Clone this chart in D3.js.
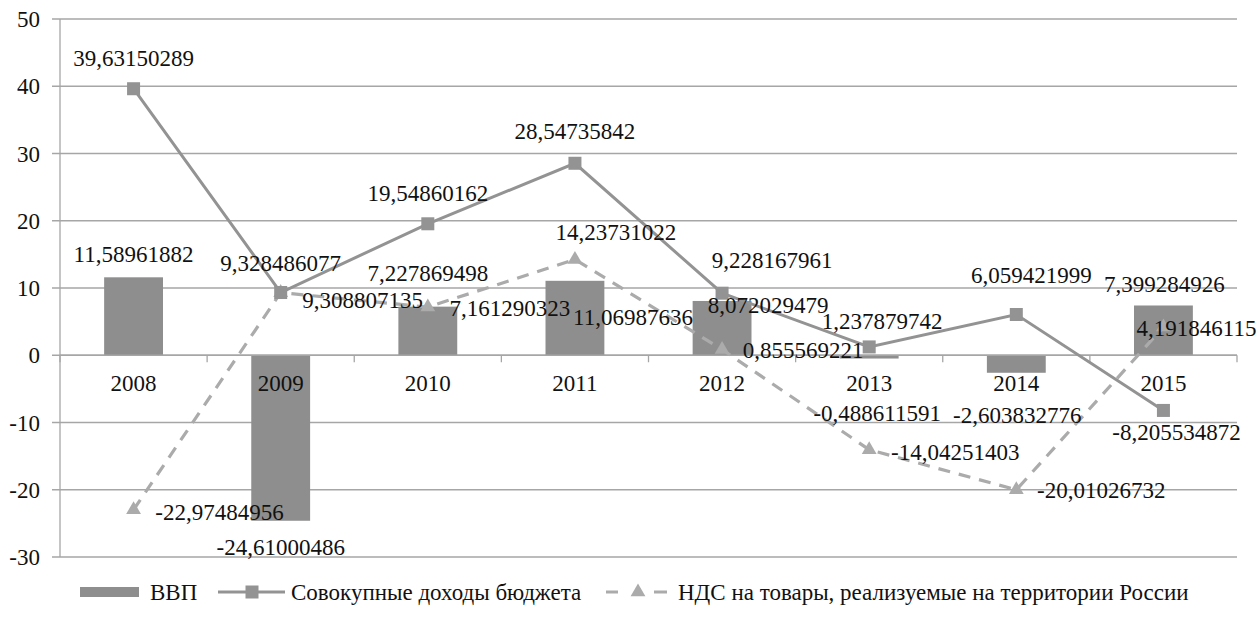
<!DOCTYPE html>
<html>
<head>
<meta charset="utf-8">
<script src="https://cdn.jsdelivr.net/npm/d3@7/dist/d3.min.js"></script>
<style>
  html, body { margin: 0; padding: 0; background: #fff; }
  svg { display: block; }
  text { font-family: "Liberation Serif", Tinos, "Times New Roman", "DejaVu Serif", serif; font-size: 23px; fill: #111; }
</style>
</head>
<body>
<svg id="chart" width="1260" height="620"></svg>
<script>
// Годы
const years = ["2008", "2009", "2010", "2011", "2012", "2013", "2014", "2015"];

// ВВП, темп прироста, %
const gdp = [11.58961882, -24.61000486, 7.227869498, 11.06987636, 8.072029479, -0.488611591, -2.603832776, 7.399284926];

// Совокупные доходы бюджета, темп прироста, %
const revenue = [39.63150289, 9.328486077, 19.54860162, 28.54735842, 9.228167961, 1.237879742, 6.059421999, -8.205534872];

// НДС на товары, реализуемые на территории России, темп прироста, %
const vat = [-22.97484956, 9.308807135, 7.161290323, 14.23731022, 0.855569221, -14.04251403, -20.01026732, 4.191846115];

const yTicks = [-30, -20, -10, 0, 10, 20, 30, 40, 50];

const seriesNames = ["ВВП", "Совокупные доходы бюджета", "НДС на товары, реализуемые на территории России"];

// Смещения подписей значений относительно точек (px)
const gdpLabelShift = [[0, -23], [0, 26], [0, -34], [58, 36], [46, 4], [8, 54], [1, 42], [1, -22]];
const revLabelShift = [[0, -31], [0, -30], [0, -31], [0, -32], [50, -33], [13, -26], [15, -40], [13, 22]];
const vatLabelShift = [[86, 2], [82, 7], [82, 1], [41, -28], [81, 0], [86, 2], [85, 0], [33, 1]];

const svg = d3.select("#chart");
const plotLeft = 60, plotRight = 1237, plotTop = 19, plotBottom = 557;

const x = d3.scaleBand().domain(years).range([plotLeft, plotRight]).paddingInner(0).paddingOuter(0);
const y = d3.scaleLinear().domain([-30, 50]).range([plotBottom, plotTop]);
const cx = d => x(d) + x.bandwidth() / 2;

const barColor = "#8e8e8e";
const lineColor = "#939393";
const vatColor = "#ababab";
const gridColor = "#a6a6a6";

// Горизонтальная сетка
svg.append("g")
  .selectAll("line")
  .data(yTicks)
  .join("line")
  .attr("x1", plotLeft - 8).attr("x2", plotRight)
  .attr("y1", d => y(d)).attr("y2", d => y(d))
  .attr("stroke", gridColor).attr("stroke-width", 1.3);

// Ось Y
svg.append("line")
  .attr("x1", plotLeft).attr("x2", plotLeft)
  .attr("y1", y(50)).attr("y2", y(-30))
  .attr("stroke", gridColor).attr("stroke-width", 1.3);

svg.append("g")
  .selectAll("text")
  .data(yTicks)
  .join("text")
  .attr("x", 40)
  .attr("y", d => y(d))
  .attr("dy", "0.35em")
  .attr("text-anchor", "end")
  .text(d => d);

// Столбцы ВВП
const barW = x.bandwidth() * 0.4;
svg.append("g")
  .selectAll("rect")
  .data(gdp)
  .join("rect")
  .attr("x", (d, i) => cx(years[i]) - barW / 2)
  .attr("width", barW)
  .attr("y", d => Math.min(y(d), y(0)))
  .attr("height", d => Math.abs(y(d) - y(0)))
  .attr("fill", barColor);

// Ось X на нуле с засечками между категориями
svg.append("line")
  .attr("x1", plotLeft).attr("x2", plotRight)
  .attr("y1", y(0)).attr("y2", y(0))
  .attr("stroke", gridColor).attr("stroke-width", 1.3);

const boundaries = years.map(d => x(d)).concat([plotRight]);
svg.append("g")
  .selectAll("line")
  .data(boundaries)
  .join("line")
  .attr("x1", d => d).attr("x2", d => d)
  .attr("y1", y(0)).attr("y2", y(0) + 7)
  .attr("stroke", gridColor).attr("stroke-width", 1.3);

svg.append("g")
  .selectAll("text")
  .data(years)
  .join("text")
  .attr("x", d => cx(d))
  .attr("y", y(0) + 28)
  .attr("dy", "0.35em")
  .attr("text-anchor", "middle")
  .text(d => d);

// Линия НДС (пунктир)
const line = d3.line().x((d, i) => cx(years[i])).y(d => y(d));

svg.append("path")
  .datum(vat)
  .attr("d", line)
  .attr("fill", "none")
  .attr("stroke", vatColor)
  .attr("stroke-width", 3.2)
  .attr("stroke-dasharray", "12,9");

// Линия совокупных доходов
svg.append("path")
  .datum(revenue)
  .attr("d", line)
  .attr("fill", "none")
  .attr("stroke", lineColor)
  .attr("stroke-width", 3);

// Маркеры
const tri = d3.symbol().type(d3.symbolTriangle).size(95);
svg.append("g")
  .selectAll("path")
  .data(vat)
  .join("path")
  .attr("d", tri)
  .attr("transform", (d, i) => `translate(${cx(years[i])},${y(d)})`)
  .attr("fill", vatColor);

const sq = 13;
svg.append("g")
  .selectAll("rect")
  .data(revenue)
  .join("rect")
  .attr("x", (d, i) => cx(years[i]) - sq / 2)
  .attr("y", d => y(d) - sq / 2)
  .attr("width", sq).attr("height", sq)
  .attr("fill", lineColor);

// Подписи значений
const fmt = v => String(v).replace(".", ",");
function labels(values, shifts) {
  svg.append("g")
    .selectAll("text")
    .data(values)
    .join("text")
    .attr("x", (d, i) => cx(years[i]) + shifts[i][0])
    .attr("y", (d, i) => y(d) + shifts[i][1])
    .attr("dy", "0.35em")
    .attr("text-anchor", "middle")
    .text(fmt);
}
labels(gdp, gdpLabelShift);
labels(revenue, revLabelShift);
labels(vat, vatLabelShift);

// Легенда
const ly = 592;
const lg = svg.append("g");
lg.append("rect").attr("x", 80).attr("y", ly - 5).attr("width", 59).attr("height", 10).attr("fill", barColor);
lg.append("text").attr("x", 150).attr("y", ly).attr("dy", "0.35em").text(seriesNames[0]);

lg.append("line").attr("x1", 218).attr("x2", 285).attr("y1", ly).attr("y2", ly)
  .attr("stroke", lineColor).attr("stroke-width", 3);
lg.append("rect").attr("x", 252 - sq / 2).attr("y", ly - sq / 2).attr("width", sq).attr("height", sq).attr("fill", lineColor);
lg.append("text").attr("x", 291).attr("y", ly).attr("dy", "0.35em").text(seriesNames[1]);

lg.append("line").attr("x1", 606).attr("x2", 667).attr("y1", ly).attr("y2", ly)
  .attr("stroke", vatColor).attr("stroke-width", 3.2).attr("stroke-dasharray", "12,36,13");
lg.append("path").attr("d", tri).attr("transform", `translate(638,${ly})`).attr("fill", vatColor);
lg.append("text").attr("x", 678).attr("y", ly).attr("dy", "0.35em").text(seriesNames[2]);
</script>
</body>
</html>
